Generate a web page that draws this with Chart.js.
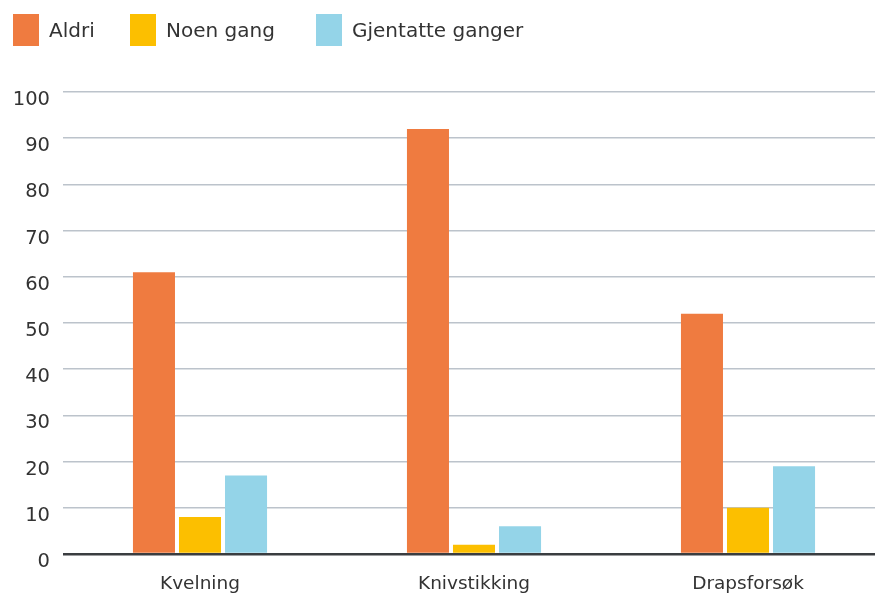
<!DOCTYPE html>
<html>
<head>
<meta charset="utf-8">
<script src="https://cdn.jsdelivr.net/npm/chart.js@4"></script>
<style>
    html, body { margin: 0; padding: 0; background: #fff; overflow: hidden; }
    #wrap { position: relative; width: 875px; height: 595px; overflow: hidden; }
    #myChart { position: absolute; left: 0; top: 0; }
    .legend { position: absolute; top: 14px; left: 0; font-family: "DejaVu Sans", sans-serif; font-size: 20px; color: #333; }
    .item { position: absolute; display: flex; align-items: center; white-space: nowrap; height: 32px; }
    .box { width: 26px; height: 32px; margin-right: 10px; }
</style>
</head>
<body>
<div id="wrap">
    <canvas id="myChart" width="885" height="595"></canvas>
    <div class="legend" id="legend"></div>
</div>
<script>
let categories = ['Kvelning', 'Knivstikking', 'Drapsforsøk'];
let seriesNames = ['Aldri', 'Noen gang', 'Gjentatte ganger'];
let aldri = [61, 92, 52];
let noenGang = [8, 2, 10];
let gjentatte = [17, 6, 19];
let yTicks = [0, 10, 20, 30, 40, 50, 60, 70, 80, 90, 100];

let colors = {
    'orange': '#ef7b40'
    , 'yellow': '#fcbf00'
    , 'blue': '#94d4e8'
    , 'grid': '#bcc3cb'
    , 'zero': '#3a3d40'
    , 'text': '#333333'
}
let legendX = [13, 130, 316];
let fontFamily = 'DejaVu Sans';

const buildLegend = () => {
    let legend = document.getElementById('legend');
    let fills = [colors['orange'], colors['yellow'], colors['blue']];
    for (let i = 0; i < seriesNames.length; i++) {
        let item = document.createElement('div');
        item.className = 'item';
        item.style.left = legendX[i] + 'px';
        let box = document.createElement('div');
        box.className = 'box';
        box.style.background = fills[i];
        let label = document.createElement('span');
        label.textContent = seriesNames[i];
        item.appendChild(box);
        item.appendChild(label);
        legend.appendChild(item);
    }
}

const barGraph = () => {
    let bar = {
        categoryPercentage: 0.504,
        barPercentage: 0.913,
    };
    let data = {
        labels: categories,
        datasets: [
            Object.assign({ label: seriesNames[0], data: aldri, backgroundColor: colors['orange'] }, bar),
            Object.assign({ label: seriesNames[1], data: noenGang, backgroundColor: colors['yellow'] }, bar),
            Object.assign({ label: seriesNames[2], data: gjentatte, backgroundColor: colors['blue'] }, bar),
        ],
    };

    let ctx = document.getElementById('myChart').getContext('2d');
    new Chart(ctx, {
        type: 'bar',
        data: data,
        options: {
            responsive: false,
            animation: false,
            layout: { padding: { top: 92, bottom: 0, left: 0, right: 0 } },
            plugins: {
                legend: { display: false },
                tooltip: { enabled: false },
            },
            scales: {
                x: {
                    afterFit: (axis) => { axis.height = 41; },
                    grid: { display: false, drawTicks: false },
                    border: { display: false },
                    ticks: {
                        padding: 19,
                        color: colors['text'],
                        font: { family: fontFamily, size: 18.5 },
                    },
                },
                y: {
                    min: 0,
                    max: 100,
                    afterFit: (axis) => { axis.width = 63; },
                    afterBuildTicks: (axis) => { axis.ticks = yTicks.map(v => ({ value: v })); },
                    border: { display: false },
                    grid: {
                        drawTicks: false,
                        color: (c) => c.tick.value === 0 ? colors['zero'] : colors['grid'],
                        lineWidth: (c) => c.tick.value === 0 ? 2.5 : 1.5,
                    },
                    ticks: {
                        padding: 13,
                        labelOffset: 8,
                        color: colors['text'],
                        font: { family: fontFamily, size: 19.5 },
                    },
                },
            },
        },
    });
}

buildLegend();
barGraph();
</script>
</body>
</html>
